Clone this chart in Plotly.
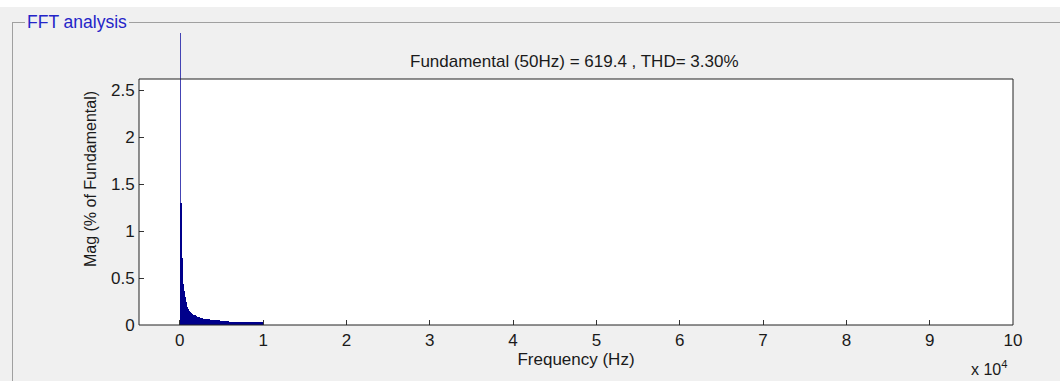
import plotly.graph_objects as go

# ---- data ----
fund_freq = [50]          # Hz
fund_mag = [100.0]        # % of fundamental
harm_freq = [100 * k for k in range(1, 101)]  # Hz, 100 .. 10000
harm_mag = [
    1.30, 1.30, 0.71, 0.44, 0.36, 0.30, 0.25, 0.21, 0.19, 0.17,
    0.15, 0.14, 0.13, 0.12, 0.115, 0.11, 0.108, 0.105, 0.100, 0.095,
    0.090, 0.086, 0.082, 0.078, 0.075, 0.072, 0.070, 0.068, 0.066, 0.064,
    0.063, 0.062, 0.061, 0.060, 0.059, 0.058, 0.057, 0.056, 0.055, 0.054,
    0.052, 0.050, 0.050, 0.050, 0.049, 0.048, 0.048, 0.047, 0.046, 0.045,
    0.045, 0.044, 0.043, 0.042, 0.041, 0.040, 0.039, 0.038, 0.037, 0.036,
    0.035, 0.034, 0.033, 0.032, 0.032, 0.032, 0.032, 0.032, 0.032, 0.032,
    0.032, 0.032, 0.032, 0.031, 0.031, 0.031, 0.031, 0.031, 0.031, 0.031,
    0.031, 0.031, 0.031, 0.031, 0.031, 0.030, 0.030, 0.030, 0.030, 0.030,
    0.030, 0.030, 0.030, 0.030, 0.030, 0.030, 0.030, 0.030, 0.030, 0.030,
]
x_tickvals = [0, 10000, 20000, 30000, 40000, 50000, 60000, 70000, 80000, 90000, 100000]
x_ticktext = ["0", "1", "2", "3", "4", "5", "6", "7", "8", "9", "10"]
y_tickvals = [0, 0.5, 1, 1.5, 2, 2.5]
y_ticktext = ["0", "0.5", "1", "1.5", "2", "2.5"]
title_text = "Fundamental (50Hz) = 619.4 , THD= 3.30%"

# ---- layout geometry ----
W, H = 1060, 381
L, R, T, B = 139, 47, 33, 56       # paper area reaches up to where the fundamental is cut
PLOT_BOTTOM = H - B
BOX_TOP = 79                        # top of the drawn axes box
pw = W - L - R
ph = H - T - B


def px_x(p):
    return (p - L) / pw


def px_y(p):
    return (PLOT_BOTTOM - p) / ph


box_y_top = 2.62                    # value at the top of the axes box
box_dom = (PLOT_BOTTOM - BOX_TOP) / ph
y_range_top = box_y_top / box_dom   # value at the top of the paper area
x_range = [-4900, 100000]

font = "Liberation Sans, Arial, sans-serif"
txt_col = "#1a1a1a"
fund_col = "#4444b4"
tick_col = "#333333"
clear = "rgba(0,0,0,0)"

fig = go.Figure()
fig.add_trace(go.Bar(
    x=fund_freq, y=fund_mag, width=40,
    marker=dict(color=fund_col, line=dict(width=0)), showlegend=False,
))
fig.add_trace(go.Bar(
    x=harm_freq, y=harm_mag, width=100,
    marker=dict(color="#00008b", line=dict(width=0)), showlegend=False,
))

tick_font = dict(family=font, size=17, color=txt_col)

fig.update_layout(
    width=W, height=H,
    margin=dict(l=L, r=R, t=T, b=B, pad=0),
    paper_bgcolor="#f0f0f0",
    plot_bgcolor=clear,
    bargap=0,
    barmode="overlay",
    xaxis=dict(
        range=x_range, tickvals=x_tickvals, ticktext=x_ticktext,
        ticks="inside", ticklen=5, tickcolor=tick_col,
        showline=True, linecolor=clear, linewidth=1,
        showgrid=False, zeroline=False, tickfont=tick_font,
        title=dict(text="Frequency (Hz)", font=dict(family=font, size=17, color=txt_col), standoff=2),
    ),
    xaxis2=dict(
        range=x_range, overlaying="x", anchor="free", position=box_dom, side="top",
        tickvals=x_tickvals, ticks="inside", ticklen=5, tickcolor=tick_col,
        showticklabels=False, showline=False, showgrid=False, zeroline=False,
    ),
    yaxis=dict(
        range=[0, y_range_top], tickvals=y_tickvals, ticktext=y_ticktext,
        ticks="inside", ticklen=5, tickcolor=tick_col,
        showline=True, linecolor=clear, linewidth=1,
        showgrid=False, zeroline=False, tickfont=tick_font,
        title=dict(text="Mag (% of Fundamental)", font=dict(family=font, size=16, color=txt_col), standoff=10),
    ),
    yaxis2=dict(
        range=[0, y_range_top], overlaying="y", side="right", anchor="x",
        tickvals=y_tickvals, ticks="inside", ticklen=5, tickcolor=tick_col,
        showticklabels=False, showline=False, showgrid=False, zeroline=False,
    ),
)

shapes = [
    # white strip at very top
    dict(type="rect", xref="paper", yref="paper", x0=px_x(0), x1=px_x(W),
         y0=px_y(0), y1=px_y(7), fillcolor="white", line=dict(width=0), layer="below"),
    # white axes box
    dict(type="rect", xref="paper", yref="paper", x0=0, x1=1,
         y0=0, y1=box_dom, fillcolor="white", line=dict(width=0), layer="below"),
    # axes box frame
    dict(type="rect", xref="paper", yref="paper", x0=0, x1=1,
         y0=0, y1=box_dom, fillcolor=clear, line=dict(color="#222", width=1), layer="above"),
    # panel border
    dict(type="line", xref="paper", yref="paper", x0=px_x(12), x1=px_x(25),
         y0=px_y(22.5), y1=px_y(22.5), line=dict(color="#a0a0a0", width=1)),
    dict(type="line", xref="paper", yref="paper", x0=px_x(129), x1=px_x(W),
         y0=px_y(22.5), y1=px_y(22.5), line=dict(color="#a0a0a0", width=1)),
    dict(type="line", xref="paper", yref="paper", x0=px_x(12.5), x1=px_x(12.5),
         y0=px_y(22.5), y1=px_y(H), line=dict(color="#a0a0a0", width=1)),
]
fig.update_layout(shapes=shapes)

annotations = [
    dict(text="FFT analysis", xref="paper", yref="paper", x=px_x(25), y=px_y(22),
         xanchor="left", yanchor="middle", showarrow=False,
         font=dict(family=font, size=17.5, color="#2424c8")),
    dict(text=title_text, xref="paper", yref="paper", x=px_x(574), y=px_y(62),
         xanchor="center", yanchor="middle", showarrow=False,
         font=dict(family=font, size=17, color=txt_col)),
    dict(text="x 10<sup>4</sup>", xref="paper", yref="paper", x=px_x(969), y=px_y(368),
         xanchor="left", yanchor="middle", showarrow=False,
         font=dict(family=font, size=16, color=txt_col)),
]
fig.update_layout(annotations=annotations)

fig.write_html(
    "out.html",
    config={"displayModeBar": False},
    post_script="document.body.style.margin='0';document.body.style.overflow='hidden';",
)
